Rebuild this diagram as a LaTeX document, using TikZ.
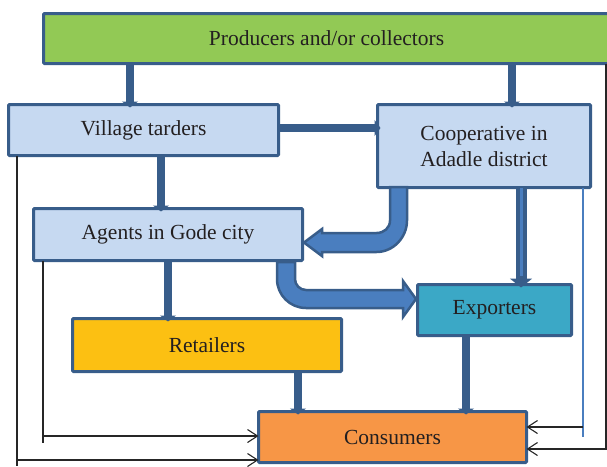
\documentclass[tikz,border=0pt]{standalone}
\usepackage{fontspec}
\setmainfont{Liberation Serif}
\usetikzlibrary{arrows.meta}

\definecolor{edge}{HTML}{385D8A}
\definecolor{paleblue}{HTML}{C6D9F1}
\definecolor{leaf}{HTML}{92C955}
\definecolor{amber}{HTML}{FCC012}
\definecolor{sea}{HTML}{3BA8C6}
\definecolor{peach}{HTML}{F79646}
\definecolor{flow}{HTML}{4A7EBF}
\definecolor{ink}{HTML}{231F20}

\tikzset{
  box/.style={draw=edge, line width=3pt, inner sep=0pt, outer sep=0pt,
    text=ink, font=\fontsize{21.5}{26}\selectfont, align=center,
    rounded corners=1pt},
  link/.style={draw=edge, line width=7.5pt,
    -{Triangle[width=16pt,length=6pt]}, shorten >=-3pt},
  wire/.style={draw=black!85, line width=1.1pt,
    -{Straight Barb[length=10pt,width=13pt]}},
  fatarrow/.style={draw=edge, fill=flow, line width=2.5pt, line join=miter},
}

\begin{document}
\begin{tikzpicture}[x=1pt,y=-1pt]
\useasboundingbox (0,0) rectangle (607,466);
\clip (0,0) rectangle (607,466);

% boxes
\node[box, fill=leaf, minimum width=566pt, minimum height=50pt] (prod) at (326.5,38.5) {Producers and/or collectors};
\node[box, fill=paleblue, minimum width=270pt, minimum height=51pt] (village) at (143.5,130) {Village tarders};
\node[box, fill=paleblue, minimum width=213pt, minimum height=83pt] (coop) at (484,146) {Cooperative in\\Adadle district};
\node[box, fill=paleblue, minimum width=269pt, minimum height=52pt] (agents) at (168,234.5) {Agents in Gode city};
\node[box, fill=sea, minimum width=154pt, minimum height=51pt] (export) at (494.5,310) {Exporters};
\node[box, fill=amber, minimum width=269pt, minimum height=53pt] (retail) at (207,345) {Retailers};
\node[box, fill=peach, minimum width=268pt, minimum height=51pt] (cons) at (392.5,437) {Consumers};

% straight flows
\draw[link] (prod.south -| 130,0) -- (village.north -| 130,0);
\draw[link] (prod.south -| 512,0) -- (coop.north -| 512,0);
\draw[link] (village.east |- 0,128) -- (coop.west |- 0,128);
\draw[link] (village.south -| 161,0) -- (agents.north -| 161,0);
\draw[link] (agents.south -| 168,0) -- (retail.north -| 168,0);
\draw[link] (retail.south -| 298,0) -- (cons.north -| 298,0);
\draw[link] (export.south -| 466,0) -- (cons.north -| 466,0);
\draw[link, line width=11pt, -{Triangle[width=22pt,length=9pt]}]
  (coop.south -| 521,0) -- (export.north -| 521,0);
\draw[flow, line width=3pt] (coop.south -| 521,0) -- (521,276);

% bent block arrows
\draw[fatarrow] (390,187) -- (407,187) -- (407,220.5)
  .. controls (407,237.35) and (393.35,252) .. (376.5,252)
  -- (322,252) -- (322,256) -- (304,242.5) -- (322,229) -- (322,233)
  -- (376.5,233) .. controls (383.96,233) and (390,227.96) .. (390,220.5)
  -- cycle;
\draw[fatarrow] (277,262) -- (277,279)
  .. controls (277,295) and (290,308) .. (306,308)
  -- (403,308) -- (403,317) -- (416,299) -- (403,281) -- (403,290)
  -- (306,290) .. controls (299.9,290) and (295,285.1) .. (295,279)
  -- (295,262) -- cycle;

% direct sales to consumers
\draw[wire] (prod.south -| 606,0) |- (cons.east |- 0,449);
\draw[flow, line width=1.5pt] (coop.south -| 583,0) -- (583,437);
\draw[wire] (583,427) -- (cons.east |- 0,427);
\draw[wire, -] (village.south -| 17,0) -- (17,466);
\draw[wire] (17,460) -- (cons.west |- 0,460);
\draw[wire, -] (agents.south -| 43,0) -- (43,443);
\draw[wire] (43,436) -- (cons.west |- 0,436);
\end{tikzpicture}
\end{document}
